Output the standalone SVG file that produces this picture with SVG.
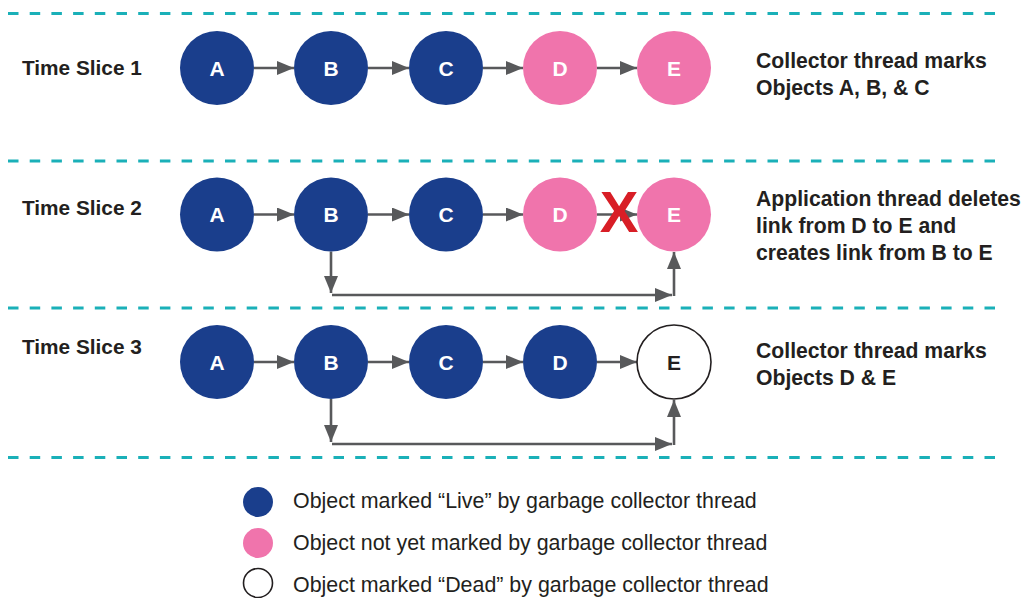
<svg xmlns="http://www.w3.org/2000/svg" width="1025" height="598" viewBox="0 0 1025 598">
<style>
.sep{stroke:#1ab0b8;stroke-width:3;stroke-dasharray:10.5 11.2;fill:none}
.live{fill:#1a3e8c}
.pend{fill:#f074ac}
.dead{fill:#ffffff;stroke:#231f20;stroke-width:1.6}
.nl{font-family:"Liberation Sans",Arial,sans-serif;font-weight:bold;font-size:21px;fill:#ffffff;text-anchor:middle}
.nd{fill:#231f20}
.ts{font-family:"Liberation Sans",Arial,sans-serif;font-weight:bold;font-size:20.8px;fill:#231f20}
.desc{font-family:"Liberation Sans",Arial,sans-serif;font-weight:bold;font-size:21.2px;fill:#231f20}
.leg{font-family:"Liberation Sans",Arial,sans-serif;font-size:21.4px;fill:#231f20}
.conn{stroke:#58595b;stroke-width:2.6;fill:none;marker-end:url(#ah)}
</style>
<defs>
<marker id="ah" markerUnits="userSpaceOnUse" markerWidth="18" markerHeight="14" refX="17" refY="7" orient="auto">
<path d="M0,0 L17,7 L0,14 Z" fill="#58595b"/>
</marker>
</defs>
<g id="separators">
<line class="sep" x1="8" y1="13.5" x2="998" y2="13.5"/>
<line class="sep" x1="8" y1="161" x2="998" y2="161"/>
<line class="sep" x1="8" y1="308" x2="998" y2="308"/>
<line class="sep" x1="8" y1="457.5" x2="998" y2="457.5"/>
</g>
<g id="labels">
<text class="ts" x="22" y="74.5">Time Slice 1</text>
<text class="ts" x="22" y="214.5">Time Slice 2</text>
<text class="ts" x="22" y="354">Time Slice 3</text>
<text class="desc" x="756" y="68">Collector thread marks</text>
<text class="desc" x="756" y="95">Objects A, B, &amp; C</text>
<text class="desc" x="756" y="206">Application thread deletes</text>
<text class="desc" x="756" y="233">link from D to E and</text>
<text class="desc" x="756" y="260">creates link from B to E</text>
<text class="desc" x="756" y="358">Collector thread marks</text>
<text class="desc" x="756" y="385">Objects D &amp; E</text>
</g>
<g id="connectors">
<line class="conn" x1="254" y1="68" x2="294" y2="68"/>
<line class="conn" x1="368" y1="68" x2="409" y2="68"/>
<line class="conn" x1="483" y1="68" x2="523" y2="68"/>
<line class="conn" x1="597" y1="68" x2="637" y2="68"/>
<line class="conn" x1="254" y1="214.5" x2="294" y2="214.5"/>
<line class="conn" x1="368" y1="214.5" x2="409" y2="214.5"/>
<line class="conn" x1="483" y1="214.5" x2="523" y2="214.5"/>
<line class="conn" x1="597" y1="214.5" x2="637" y2="214.5"/>
<line class="conn" x1="331" y1="251.5" x2="331" y2="293"/>
<line class="conn" x1="332" y1="295" x2="672" y2="295"/>
<line class="conn" x1="674" y1="296" x2="674" y2="252"/>
<line class="conn" x1="254" y1="362" x2="294" y2="362"/>
<line class="conn" x1="368" y1="362" x2="409" y2="362"/>
<line class="conn" x1="483" y1="362" x2="523" y2="362"/>
<line class="conn" x1="597" y1="362" x2="637" y2="362"/>
<line class="conn" x1="331" y1="399" x2="331" y2="442"/>
<line class="conn" x1="332" y1="444" x2="672" y2="444"/>
<line class="conn" x1="674" y1="445" x2="674" y2="400"/>
</g>
<g id="row1">
<g id="r1A"><circle class="live" cx="217" cy="68" r="37"/><text class="nl" x="217" y="75.5">A</text></g>
<g id="r1B"><circle class="live" cx="331" cy="68" r="37"/><text class="nl" x="331" y="75.5">B</text></g>
<g id="r1C"><circle class="live" cx="446" cy="68" r="37"/><text class="nl" x="446" y="75.5">C</text></g>
<g id="r1D"><circle class="pend" cx="560" cy="68" r="37"/><text class="nl" x="560" y="75.5">D</text></g>
<g id="r1E"><circle class="pend" cx="674" cy="68" r="37"/><text class="nl" x="674" y="75.5">E</text></g>
</g>
<g id="row2">
<g id="r2A"><circle class="live" cx="217" cy="214.5" r="37"/><text class="nl" x="217" y="222">A</text></g>
<g id="r2B"><circle class="live" cx="331" cy="214.5" r="37"/><text class="nl" x="331" y="222">B</text></g>
<g id="r2C"><circle class="live" cx="446" cy="214.5" r="37"/><text class="nl" x="446" y="222">C</text></g>
<g id="r2D"><circle class="pend" cx="560" cy="214.5" r="37"/><text class="nl" x="560" y="222">D</text></g>
<g id="r2E"><circle class="pend" cx="674" cy="214.5" r="37"/><text class="nl" x="674" y="222">E</text></g>
<g id="deleteMark"><text x="619" y="232" font-family="Liberation Sans, Arial, sans-serif" font-weight="bold" font-size="58" fill="#d81e26" text-anchor="middle">X</text></g>
</g>
<g id="row3">
<g id="r3A"><circle class="live" cx="217" cy="362" r="37"/><text class="nl" x="217" y="369.5">A</text></g>
<g id="r3B"><circle class="live" cx="331" cy="362" r="37"/><text class="nl" x="331" y="369.5">B</text></g>
<g id="r3C"><circle class="live" cx="446" cy="362" r="37"/><text class="nl" x="446" y="369.5">C</text></g>
<g id="r3D"><circle class="live" cx="560" cy="362" r="37"/><text class="nl" x="560" y="369.5">D</text></g>
<g id="r3E"><circle class="dead" cx="674" cy="362" r="37"/><text class="nl nd" x="674" y="369.5">E</text></g>
</g>
<g id="legend">
<g id="legLive"><circle class="live" cx="258" cy="502" r="15"/><text class="leg" x="293" y="507.5">Object marked “Live” by garbage collector thread</text></g>
<g id="legPend"><circle class="pend" cx="258" cy="543" r="15"/><text class="leg" x="293" y="550">Object not yet marked by garbage collector thread</text></g>
<g id="legDead"><circle class="dead" cx="258" cy="583" r="14.5"/><text class="leg" x="293" y="591.5">Object marked “Dead” by garbage collector thread</text></g>
</g>
</svg>
